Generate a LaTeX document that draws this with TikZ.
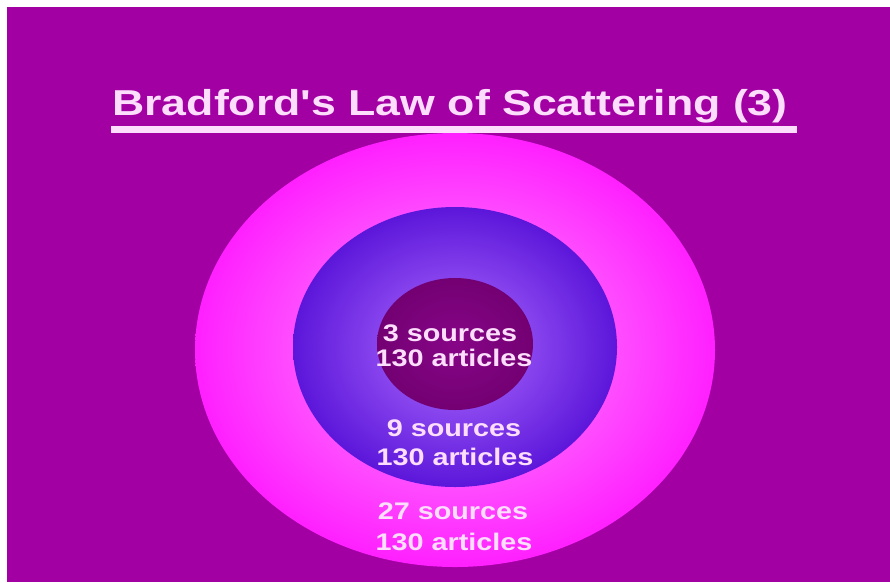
\documentclass[tikz,border=0pt]{standalone}
\usepackage{fontspec}
\setmainfont[Ligatures=TeXOff]{Liberation Sans}
\definecolor{bgpurple}{RGB}{163,0,163}
\definecolor{txtpink}{RGB}{252,222,252}
\definecolor{outerin}{RGB}{255,150,255}
\definecolor{outerout}{RGB}{255,32,255}
\definecolor{midin}{RGB}{175,110,255}
\definecolor{midout}{RGB}{92,22,218}
\definecolor{innin}{RGB}{135,5,135}
\definecolor{innout}{RGB}{115,0,115}
\tikzset{
  lbl/.style={text=txtpink, font=\bfseries\fontsize{24}{24}\selectfont, anchor=base, inner sep=0pt, xscale=1.2},
  ttl/.style={text=txtpink, font=\bfseries\fontsize{36}{36}\selectfont, anchor=base, inner sep=0pt, xscale=1.24},
}
\begin{document}
\begin{tikzpicture}[x=1pt,y=-1pt]
\useasboundingbox (0,0) rectangle (890,582);
\fill[white] (0,0) rectangle (890,582);
\fill[bgpurple] (7,7) rectangle (890,582);
% title
\node[ttl] (title) at (450,115) {Bradford\char39 s Law of Scattering (3)};
\fill[txtpink] (111,126) rectangle (797,133);
% rings
\shade[inner color=outerin, outer color=outerout] (455,350) ellipse [x radius=260, y radius=217];
\shade[inner color=midin, outer color=midout] (455,347) ellipse [x radius=162, y radius=140];
\shade[inner color=innin, outer color=innout] (455,344) ellipse [x radius=78, y radius=66];
% labels
\node[lbl] (a1) at (450,341) {3 sources};
\node[lbl] (a2) at (454,366) {130 articles};
\node[lbl] (b1) at (454,436) {9 sources};
\node[lbl] (b2) at (455,465) {130 articles};
\node[lbl] (c1) at (453,519) {27 sources};
\node[lbl] (c2) at (454,550) {130 articles};
\end{tikzpicture}
\end{document}
